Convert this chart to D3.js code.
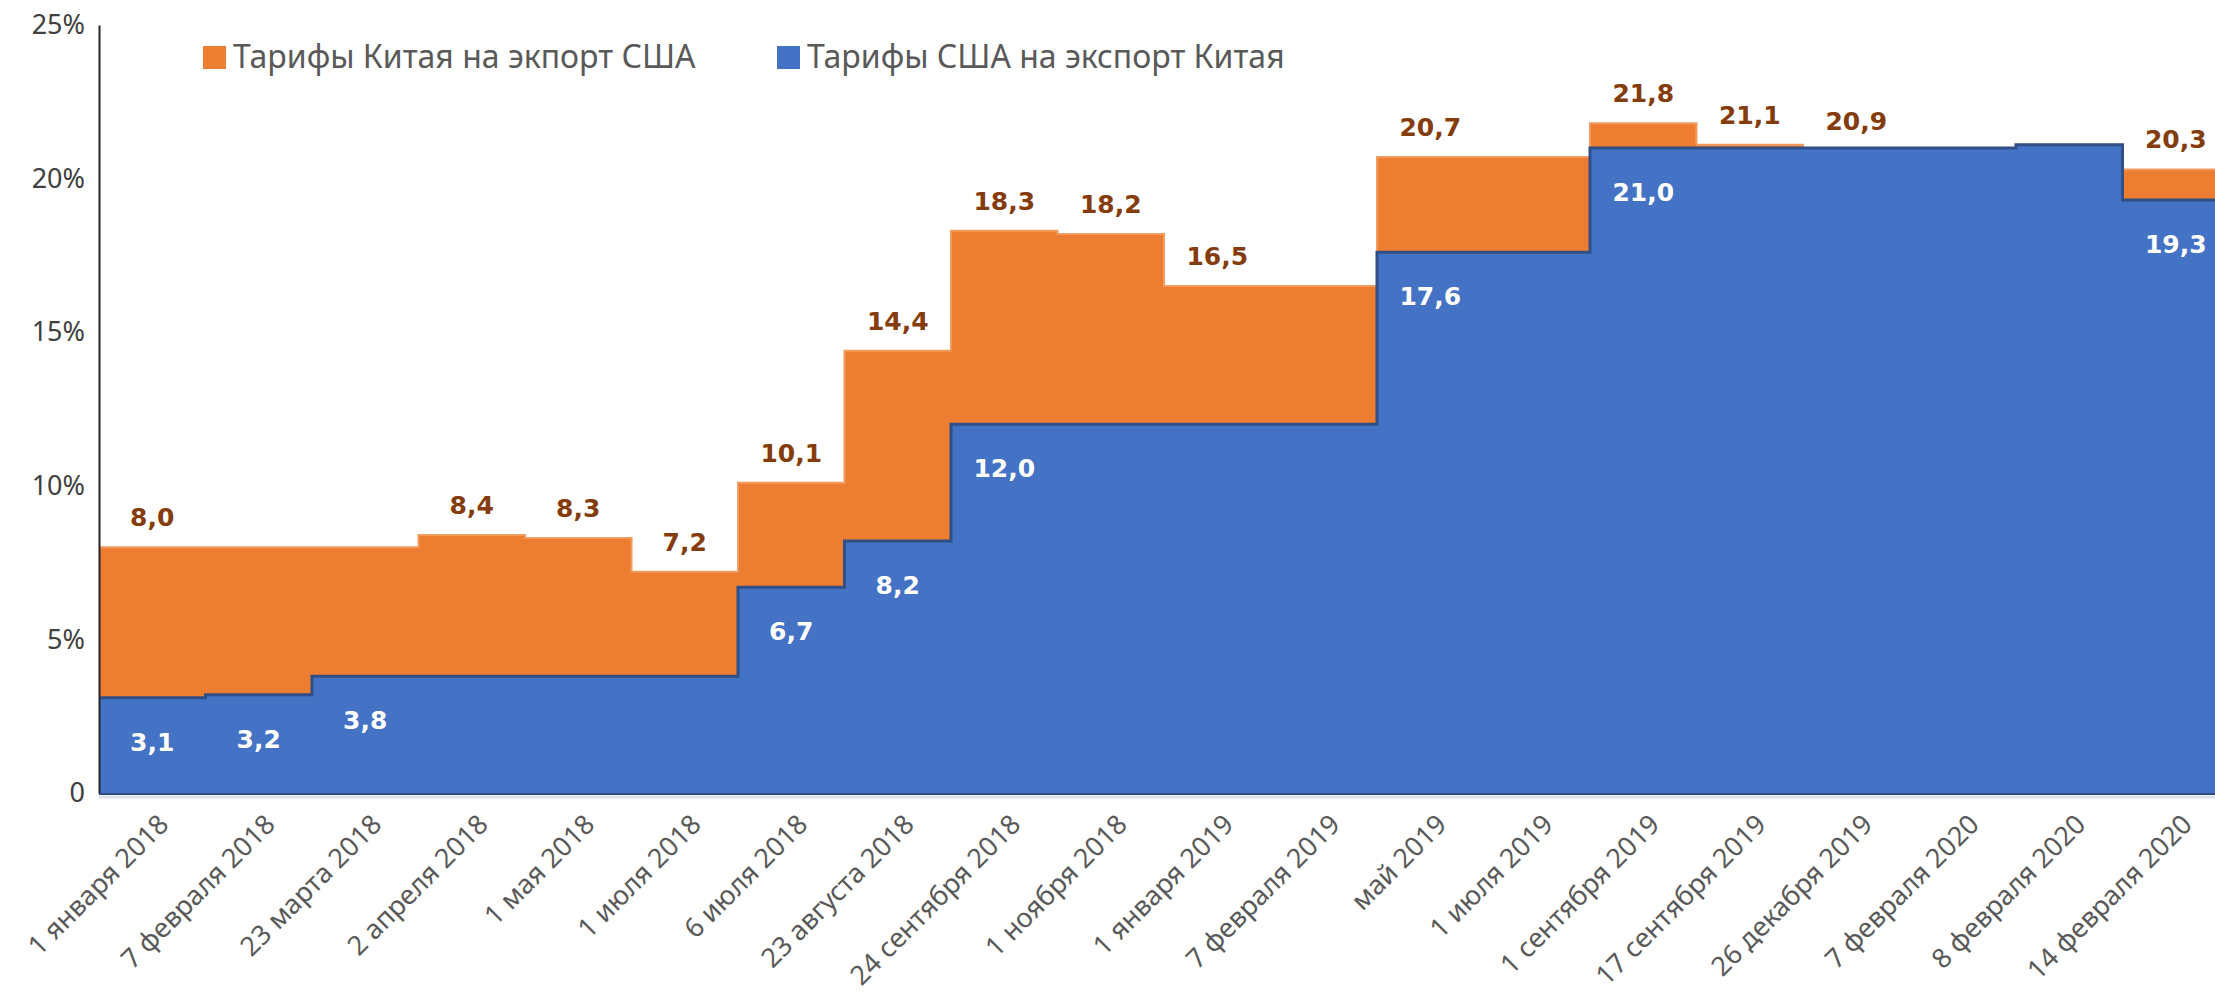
<!DOCTYPE html>
<html>
<head>
<meta charset="utf-8">
<script src="https://cdn.jsdelivr.net/npm/d3@7"></script>
<style>
    body { margin: 0; background: #fff; overflow: hidden; }
</style>
</head>
<body>
<div id="chart"></div>
<script>
// dates of tariff changes
var categories = ["1 января 2018", "7 февраля 2018", "23 марта 2018", "2 апреля 2018", "1 мая 2018",
    "1 июля 2018", "6 июля 2018", "23 августа 2018", "24 сентября 2018", "1 ноября 2018",
    "1 января 2019", "7 февраля 2019", "май 2019", "1 июля 2019", "1 сентября 2019",
    "17 сентября 2019", "26 декабря 2019", "7 февраля 2020", "8 февраля 2020", "14 февраля 2020"];
var chinaTariffs = [8.0, 8.0, 8.0, 8.4, 8.3, 7.2, 10.1, 14.4, 18.3, 18.2, 16.5, 16.5, 20.7, 20.7, 21.8, 21.1, 20.9, 20.9, 20.9, 20.3];
var usTariffs = [3.1, 3.2, 3.8, 3.8, 3.8, 3.8, 6.7, 8.2, 12.0, 12.0, 12.0, 12.0, 17.6, 17.6, 21.0, 21.0, 21.0, 21.0, 21.1, 19.3];
// which points carry a value label
var chinaLabelled = [1, 0, 0, 1, 1, 1, 1, 1, 1, 1, 1, 0, 1, 0, 1, 1, 1, 0, 0, 1];
var usLabelled = [1, 1, 1, 0, 0, 0, 1, 1, 1, 0, 0, 0, 1, 0, 1, 0, 0, 0, 0, 1];
var yTicks = [0, 5, 10, 15, 20, 25];
var seriesNames = ["Тарифы Китая на экпорт США", "Тарифы США на экспорт Китая"];

var width = 2215, height = 1003;
var margin = { left: 99, top: 25, bottom: 210 };
var plotRight = 2229; // the last step runs past the right edge

var svg = d3.select("#chart")
    .append("svg")
    .attr("width", width)
    .attr("height", height);

var x = d3.scaleBand()
    .domain(categories)
    .range([margin.left, plotRight])
    .padding(0);

var y = d3.scaleLinear()
    .domain([0, 25])
    .range([height - margin.bottom, margin.top]);

var fmt = function (v) { return d3.format(".1f")(v).replace(".", ","); };

function stepPoints(values) {
    var pts = categories.map(function (c, i) { return { x: x(c), v: values[i] }; });
    pts.push({ x: x.range()[1], v: values[values.length - 1] });
    return pts;
}

var area = d3.area()
    .curve(d3.curveStepAfter)
    .x(function (d) { return d.x; })
    .y0(y(0))
    .y1(function (d) { return y(d.v); });

var topLine = d3.line()
    .curve(d3.curveStepAfter)
    .x(function (d) { return d.x; })
    .y(function (d) { return y(d.v); });

// China (orange) behind, US (blue) in front
svg.append("path")
    .datum(stepPoints(chinaTariffs))
    .attr("fill", "#ED7D31")
    .attr("d", area);
svg.append("path")
    .datum(stepPoints(chinaTariffs))
    .attr("fill", "none")
    .attr("stroke", "#F29B5E")
    .attr("stroke-width", 2)
    .attr("d", topLine);

svg.append("path")
    .datum(stepPoints(usTariffs))
    .attr("fill", "#4472C4")
    .attr("d", area);
svg.append("path")
    .datum(stepPoints(usTariffs))
    .attr("fill", "none")
    .attr("stroke", "#2F4F86")
    .attr("stroke-width", 3)
    .attr("d", topLine);

// x axis baseline
svg.append("line")
    .attr("x1", x.range()[0]).attr("x2", x.range()[1])
    .attr("y1", y(0) + 1).attr("y2", y(0) + 1)
    .attr("stroke", "#2F4F86").attr("stroke-width", 2);
svg.append("line")
    .attr("x1", x.range()[0]).attr("x2", x.range()[1])
    .attr("y1", y(0) + 4).attr("y2", y(0) + 4)
    .attr("stroke", "#DCE4F0").attr("stroke-width", 3);

// y axis
var yAxis = svg.append("g")
    .attr("transform", "translate(" + margin.left + ",0)")
    .call(d3.axisLeft(y).tickValues(yTicks).tickSize(0).tickPadding(14)
        .tickFormat(function (d) { return d === 0 ? "0" : d + "%"; }));
yAxis.select(".domain").attr("stroke", "#262626").attr("stroke-width", 2);
yAxis.selectAll("text")
    .attr("font-family", "'Noto Sans', sans-serif")
    .attr("font-size", 27)
    .attr("fill", "#404040");

// x tick labels, rotated
svg.append("g").selectAll("text")
    .data(categories)
    .enter().append("text")
    .attr("transform", function (d) {
        return "translate(" + (x(d) + x.bandwidth() / 2 + 18) + "," + (y(0) + 33) + ") rotate(-45)";
    })
    .attr("text-anchor", "end")
    .attr("font-family", "'Noto Sans', sans-serif")
    .attr("font-size", 27)
    .attr("fill", "#595959")
    .text(function (d) { return d; });

// value labels
svg.append("g").selectAll("text")
    .data(categories.filter(function (c, i) { return chinaLabelled[i]; }))
    .enter().append("text")
    .attr("x", function (d) { return x(d) + x.bandwidth() / 2; })
    .attr("y", function (d) { return y(chinaTariffs[categories.indexOf(d)]) - 21; })
    .attr("text-anchor", "middle")
    .attr("font-family", "'DejaVu Sans', sans-serif")
    .attr("font-weight", "bold")
    .attr("font-size", 25)
    .attr("fill", "#843C0C")
    .text(function (d) { return fmt(chinaTariffs[categories.indexOf(d)]); });

svg.append("g").selectAll("text")
    .data(categories.filter(function (c, i) { return usLabelled[i]; }))
    .enter().append("text")
    .attr("x", function (d) { return x(d) + x.bandwidth() / 2; })
    .attr("y", function (d) { return y(usTariffs[categories.indexOf(d)]) + 53; })
    .attr("text-anchor", "middle")
    .attr("font-family", "'DejaVu Sans', sans-serif")
    .attr("font-weight", "bold")
    .attr("font-size", 25)
    .attr("fill", "#FFFFFF")
    .text(function (d) { return fmt(usTariffs[categories.indexOf(d)]); });

// legend
var legendColors = ["#ED7D31", "#4472C4"];
var legendX = [203, 777];
var legend = svg.append("g").selectAll("g")
    .data(seriesNames)
    .enter().append("g")
    .attr("transform", function (d, i) { return "translate(" + legendX[i] + ",46)"; });
legend.append("rect")
    .attr("width", 23).attr("height", 23)
    .attr("fill", function (d, i) { return legendColors[i]; });
legend.append("text")
    .attr("x", 30)
    .attr("y", 22)
    .attr("font-family", "'Noto Sans', sans-serif")
    .attr("font-size", 32)
    .attr("fill", "#595959")
    .text(function (d) { return d; });
</script>
</body>
</html>
